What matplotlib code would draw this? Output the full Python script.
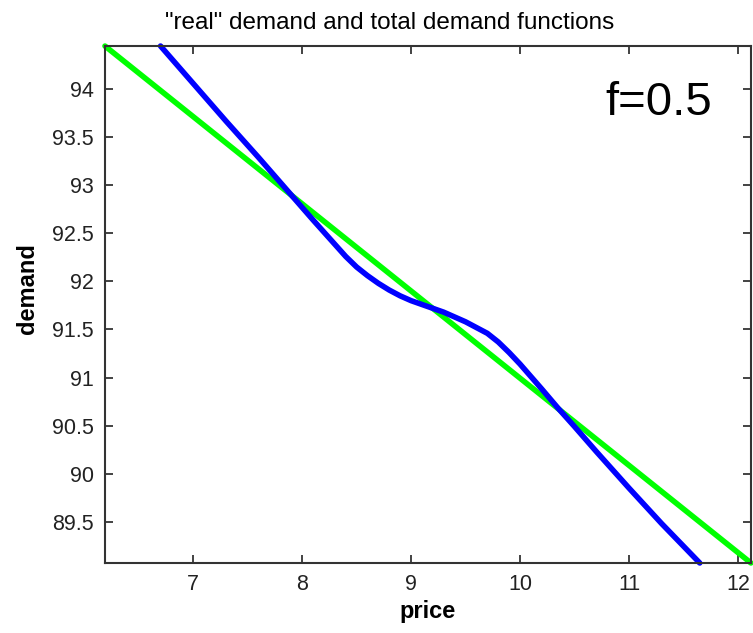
import numpy as np
import matplotlib.pyplot as plt

plt.rcParams['font.family'] = ['Liberation Sans', 'DejaVu Sans']

# "real" demand (green, straight line) and total demand (blue, S-shaped)
price_real = [6.19, 12.12]
demand_real = [94.45, 89.07]

price_total = [6.70, 7.00, 7.30, 7.60, 7.90, 8.10, 8.25, 8.40, 8.50, 8.60,
               8.70, 8.80, 8.90, 9.00, 9.10, 9.20, 9.30, 9.40, 9.50, 9.60,
               9.70, 9.80, 9.90, 10.00, 10.10, 10.20, 10.35, 10.50, 10.70, 11.00,
               11.30, 11.65]
demand_total = [94.45, 94.06, 93.67, 93.29, 92.90, 92.64, 92.45, 92.26, 92.15, 92.06,
                91.98, 91.91, 91.85, 91.80, 91.76, 91.72, 91.68, 91.63, 91.58, 91.52,
                91.46, 91.37, 91.26, 91.14, 91.01, 90.88, 90.68, 90.49, 90.23, 89.85,
                89.48, 89.07]

yticks = [89.5, 90, 90.5, 91, 91.5, 92, 92.5, 93, 93.5, 94]
xticks = [7, 8, 9, 10, 11, 12]

fig = plt.figure(figsize=(7.53, 6.33), dpi=100)
ax = fig.add_axes([0.1394, 0.1106, 0.8579, 0.8167])

ax.plot(price_real, demand_real, color='#00ff00', lw=4, solid_capstyle='round',
        solid_joinstyle='round', clip_on=False)
ax.plot(price_total, demand_total, color='#0000ff', lw=4, solid_capstyle='round',
        solid_joinstyle='round', clip_on=False)

ax.set_xlim(6.19, 12.12)
ax.set_ylim(89.07, 94.45)
ax.set_xticks(xticks)
ax.set_yticks(yticks)
ax.set_yticklabels([f'{v:g}' for v in yticks])
ax.tick_params(direction='in', length=6, width=1.2, colors='#222222',
               labelsize=15.5, top=True, right=True, pad=8)
for s in ax.spines.values():
    s.set_linewidth(1.5)
    s.set_color('#333333')

# title sits a little left of the axes centre in the original
fig.text(0.219, 1 - 29 / 633, '"real" demand and total demand functions',
         fontsize=17.5, ha='left', va='baseline')
ax.set_xlabel('price', fontsize=17, fontweight='bold')
ax.xaxis.set_label_coords(0.5, -0.072)
ax.set_ylabel('demand', fontsize=17, fontweight='bold')
ax.yaxis.set_label_coords(-0.102, 0.53)
ax.text(0.9396, 0.8665, 'f=0.5', transform=ax.transAxes, fontsize=34,
        ha='right', va='baseline')

fig.savefig('out.png', dpi=100)
